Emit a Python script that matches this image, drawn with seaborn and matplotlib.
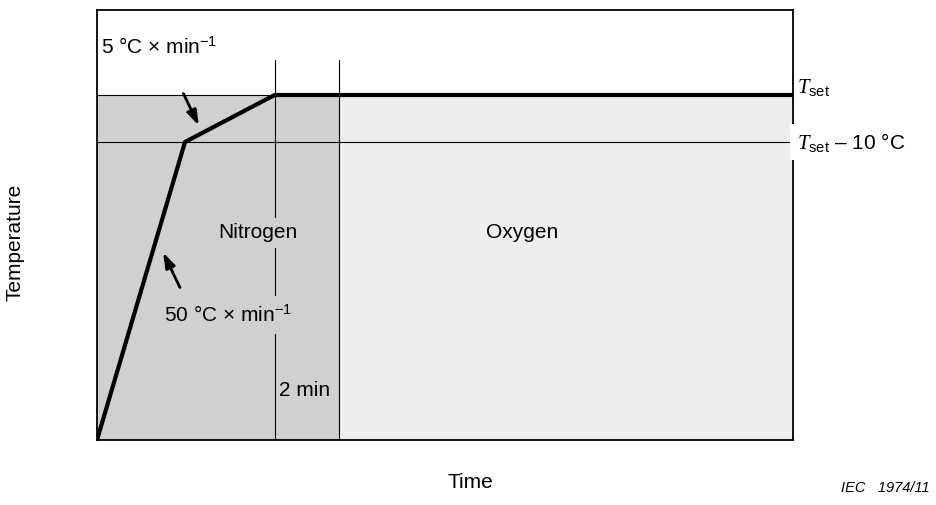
import numpy as np
import pandas as pd
import matplotlib
matplotlib.use("Agg")
import matplotlib.pyplot as plt
import seaborn as sns

# schematic values (time in min, temperature in arbitrary units)
time_pts = [0, 2.75, 5.55, 21.75]
temp_pts = [0, 298, 345, 345]
t_set = 345
t_set_low = 298
n2_end = 7.55
x_max = 21.75
y_max = 430
marker_top = 380

sns.set_style("white")
plt.rcParams["font.family"] = ["Liberation Sans", "DejaVu Sans"]
plt.rcParams["text.color"] = "black"
plt.rcParams["mathtext.fontset"] = "custom"
plt.rcParams["mathtext.it"] = "Liberation Serif:italic"
plt.rcParams["mathtext.rm"] = "Liberation Sans"
plt.rcParams["mathtext.sf"] = "Liberation Sans"

dark = "#d0d0d0"
light = "#eeeeee"
fs = 15

fig = plt.figure(figsize=(9.36, 5.05), dpi=100)
ax = fig.add_axes([97 / 936, 65 / 505, 696 / 936, 430 / 505])

# shaded regions
ax.fill_between([0, n2_end], 0, t_set, color=dark, lw=0, zorder=0)
ax.fill_between([n2_end, x_max], 0, t_set, color=light, lw=0, zorder=0)

# thin reference lines
ax.axhline(t_set_low, color="black", lw=0.8, zorder=1)
ax.plot([0, time_pts[2]], [t_set, t_set], color="black", lw=0.8, zorder=1)
ax.plot([time_pts[2], time_pts[2]], [0, marker_top], color="black", lw=0.8, zorder=1)
ax.plot([n2_end, n2_end], [0, marker_top], color="black", lw=0.8, zorder=1)

# temperature programme
df = pd.DataFrame({"time": time_pts, "temp": temp_pts})
sns.lineplot(data=df, x="time", y="temp", color="black", lw=3, ax=ax, zorder=3)

ax.set_xlim(0, x_max)
ax.set_ylim(0, y_max)
ax.set_xticks([])
ax.set_yticks([])
ax.set_xlabel("")
ax.set_ylabel("")
for s in ax.spines.values():
    s.set_linewidth(1.3)
    s.set_color("black")

# labels
arrow = dict(arrowstyle="-|>,head_length=0.9,head_width=0.3", color="black", lw=2)
ax.text(0.125, 393, r"5 °C × min$^{\mathregular{−1}}$", fontsize=fs, ha="left", va="center")
ax.annotate("", xy=(3.22, 312), xytext=(2.66, 349), arrowprops=arrow)
ax.text(2.1, 125, r"50 °C × min$^{\mathregular{−1}}$", fontsize=fs, ha="left", va="center",
        bbox=dict(facecolor=dark, edgecolor="none", pad=6), zorder=4)
ax.annotate("", xy=(2.03, 190), xytext=(2.63, 150), arrowprops=arrow)
ax.text(5.03, 207, "Nitrogen", fontsize=fs, ha="center", va="center",
        bbox=dict(facecolor=dark, edgecolor="none", pad=4), zorder=4)
ax.text(13.28, 207, "Oxygen", fontsize=fs, ha="center", va="center",
        bbox=dict(facecolor=light, edgecolor="none", pad=4), zorder=4)
ax.text(5.69, 49, "2 min", fontsize=fs, ha="left", va="center", zorder=4)

ax.text(x_max + 0.13, t_set + 8, r"$T_{\mathrm{set}}$", fontsize=fs, ha="left", va="center",
        clip_on=False)
ax.text(x_max + 0.13, t_set_low, r"$T_{\mathrm{set}}$ – 10 °C", fontsize=fs, ha="left", va="center",
        clip_on=False, zorder=5, bbox=dict(facecolor="white", edgecolor="none", pad=5))

fig.text(15 / 936, 1 - 242 / 505, "Temperature", fontsize=fs, rotation=90, ha="center", va="center")
fig.text(470 / 936, 1 - 482 / 505, "Time", fontsize=fs, ha="center", va="center")
fig.text(930 / 936, 1 - 488 / 505, "IEC   1974/11", fontsize=10.5, style="italic", ha="right", va="center")

fig.savefig("out.png", dpi=100)
